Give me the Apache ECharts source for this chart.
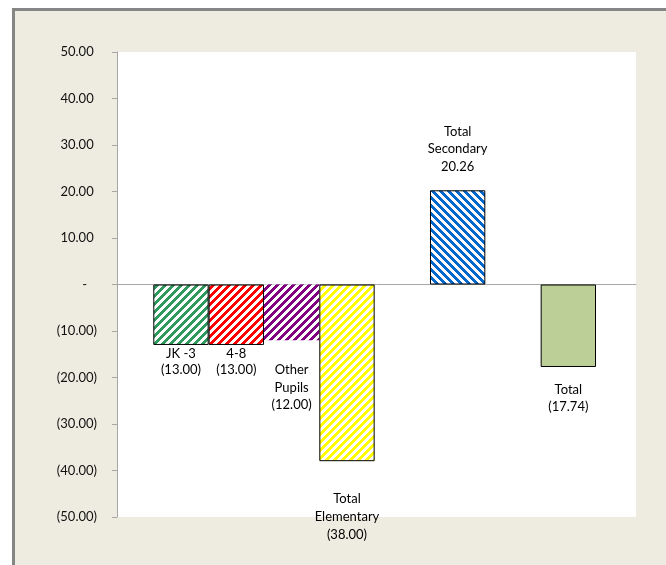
<!DOCTYPE html>
<html>
<head>
<meta charset="utf-8">
<script src="https://cdn.jsdelivr.net/npm/echarts@6/dist/echarts.min.js"></script>
<style>html,body{margin:0;padding:0;background:#fff}#c{width:666px;height:565px}</style>
</head>
<body>
<div id="c"></div>
<script>
// ---- data ----
const categories = ['JK -3', '4-8', 'Other\nPupils', 'Total\nElementary', '', 'Total\nSecondary', '', 'Total'];
const values = [-13.00, -13.00, -12.00, -38.00, null, 20.26, null, -17.74];
const yTicks = [-50, -40, -30, -20, -10, 0, 10, 20, 30, 40, 50];

// ---- styles ----
const barColors = ['#2E9A5C', '#FF0000', '#800080', '#FFFF00', null, '#0068CC', null, '#BBCF96'];
const barPattern = ['up', 'up', 'up', 'up', null, 'down', null, 'solid'];
const barBorder = [true, true, false, true, null, true, null, true];
const labelDist = [1, 1, 21, 29, 0, 15, 0, 14];
const labelLine = [16, 16, 17.5, 18, 17, 17.5, 17, 17.5];
const FONT = 'Lato';

function fmt(v) {
  if (v === 0) return '-';
  return v < 0 ? '(' + Math.abs(v).toFixed(2) + ')' : v.toFixed(2);
}

function makePattern(color, dir) {
  const s = 8;
  const cv = document.createElement('canvas');
  cv.width = s; cv.height = s;
  const ctx = cv.getContext('2d');
  ctx.fillStyle = '#ffffff';
  ctx.fillRect(0, 0, s, s);
  ctx.fillStyle = color;
  for (let x = 0; x < s; x++) {
    for (let y = 0; y < s; y++) {
      const k = dir === 'up' ? (x + y) % s : ((x - y) % s + s) % s;
      if (k < 4) ctx.fillRect(x, y, 1, 1);
    }
  }
  return { image: cv, repeat: 'repeat' };
}

const seriesData = values.map(function (v, i) {
  if (v === null) return null;
  const color = barPattern[i] === 'solid' ? barColors[i] : makePattern(barColors[i], barPattern[i]);
  return {
    value: v,
    itemStyle: {
      color: color,
      borderColor: barBorder[i] ? '#000' : 'transparent',
      borderWidth: barBorder[i] ? 1 : 0
    },
    label: {
      show: true,
      position: v < 0 ? 'bottom' : 'top',
      distance: labelDist[i],
      lineHeight: labelLine[i],
      formatter: categories[i] + '\n' + fmt(v)
    }
  };
});

const chart = echarts.init(document.getElementById('c'), null, { renderer: 'canvas' });
chart.setOption({
  backgroundColor: '#ffffff',
  animation: false,
  textStyle: { fontFamily: FONT },
  graphic: [{
    type: 'rect',
    z: -100,
    shape: { x: 13.5, y: 9.5, width: 700, height: 600 },
    style: { fill: '#EEECE1', stroke: '#858585', lineWidth: 3 }
  }],
  grid: [
    { left: 117, right: 30, top: 52, bottom: 48, show: true, backgroundColor: '#ffffff', borderWidth: 0 },
    { left: 153.3, right: 70, top: 52, bottom: 48 }
  ],
  xAxis: [
    {
      gridIndex: 0, type: 'category', data: [''],
      axisLine: { show: true, onZero: true, lineStyle: { color: '#A6A6A6', width: 1 } },
      axisTick: { show: false }, axisLabel: { show: false }, splitLine: { show: false }
    },
    {
      gridIndex: 1, type: 'category', data: categories,
      axisLine: { show: false }, axisTick: { show: false }, axisLabel: { show: false }, splitLine: { show: false }
    }
  ],
  yAxis: [
    {
      gridIndex: 0, type: 'value', min: yTicks[0], max: yTicks[yTicks.length - 1], interval: 10,
      axisLine: { show: true, lineStyle: { color: '#A6A6A6', width: 1 } },
      axisTick: { show: true, length: 5, lineStyle: { color: '#A6A6A6' } },
      splitLine: { show: false },
      axisLabel: {
        margin: 20, color: '#111', fontSize: 13, fontFamily: FONT,
        formatter: function (v) {
          if (v === 0) return '-   ';
          return v < 0 ? fmt(v) : fmt(v) + ' ';
        }
      }
    },
    {
      gridIndex: 1, type: 'value', min: yTicks[0], max: yTicks[yTicks.length - 1], interval: 10,
      show: false
    }
  ],
  series: [{
    type: 'bar',
    xAxisIndex: 1, yAxisIndex: 1,
    barCategoryGap: '0%',
    data: seriesData,
    label: { color: '#000', fontSize: 13, fontFamily: FONT, align: 'center' }
  }]
});
</script>
</body>
</html>
